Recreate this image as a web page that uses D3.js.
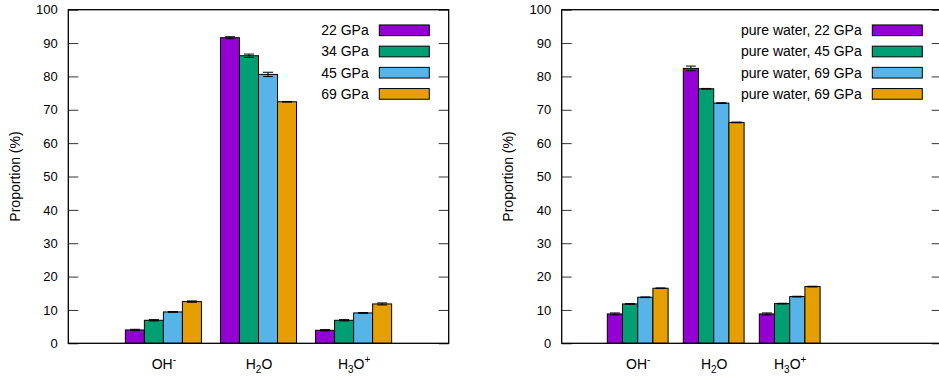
<!DOCTYPE html>
<html>
<head>
<meta charset="utf-8">
<script src="https://cdn.jsdelivr.net/npm/d3@7"></script>
<style>
  html, body { margin: 0; padding: 0; background: #fff; }
  svg { display: block; font-family: "Liberation Sans", Arial, Helvetica, sans-serif; }
</style>
</head>
<body>
<svg id="chart" width="939" height="381"></svg>
<script>
// Species on the x axis (rich-text parts: [text, role])
const species = [
  [["OH", "n"], ["-", "sup"]],
  [["H", "n"], ["2", "sub"], ["O", "n"]],
  [["H", "n"], ["3", "sub"], ["O", "n"], ["+", "sup"]]
];

const yTicks = [0, 10, 20, 30, 40, 50, 60, 70, 80, 90, 100];
const colors = ["#9400D3", "#009E73", "#56B4E9", "#E69F00"];

// Left panel: proportions per pressure (OH-, H2O, H3O+)
const leftLabels = ["22 GPa", "34 GPa", "45 GPa", "69 GPa"];
const left22 = [4.0, 91.6, 3.9];
const left34 = [6.9, 86.2, 6.9];
const left45 = [9.4, 80.6, 9.1];
const left69 = [12.5, 72.4, 11.8];
const left22Err = [0.2, 0.3, 0.2];
const left34Err = [0.2, 0.5, 0.2];
const left45Err = [0.1, 0.65, 0.1];
const left69Err = [0.2, 0.1, 0.3];

// Right panel: pure water
const rightLabels = ["pure water, 22 GPa", "pure water, 45 GPa", "pure water, 69 GPa", "pure water, 69 GPa"];
const right22 = [8.8, 82.4, 8.8];
const right45 = [11.8, 76.3, 11.9];
const right69a = [13.8, 72.0, 14.0];
const right69b = [16.5, 66.2, 17.0];
const right22Err = [0.3, 0.7, 0.3];
const right45Err = [0.1, 0.1, 0.1];
const right69aErr = [0.1, 0.1, 0.1];
const right69bErr = [0.1, 0.1, 0.1];

const svg = d3.select("#chart");

function drawPanel(opts) {
  const { x0, x1, xDomain, labelX, series, errors, names } = opts;
  const top = 9.7, bottom = 343.3;
  const x = d3.scaleLinear().domain(xDomain).range([x0, x1]);
  const y = d3.scaleLinear().domain([0, 100]).range([bottom, top]);
  const g = svg.append("g");
  const barW = 0.2;

  // bars
  series.forEach((vals, j) => {
    g.append("g").selectAll("rect").data(vals).join("rect")
      .attr("x", (d, i) => x(i + (j - 2) * barW))
      .attr("width", x(barW) - x(0))
      .attr("y", d => y(d))
      .attr("height", d => y(0) - y(d))
      .attr("fill", colors[j])
      .attr("stroke", "#000")
      .attr("stroke-width", 1);
  });

  // error bars
  series.forEach((vals, j) => {
    const eg = g.append("g").attr("stroke", "#000").attr("stroke-width", 1).attr("fill", "none");
    vals.forEach((v, i) => {
      const e = errors[j][i];
      const cx = x(i + (j - 1.5) * barW);
      eg.append("line").attr("x1", cx).attr("x2", cx).attr("y1", y(v - e)).attr("y2", y(v + e));
      [v - e, v + e].forEach(t => {
        eg.append("line").attr("x1", cx - 5).attr("x2", cx + 5).attr("y1", y(t)).attr("y2", y(t));
      });
    });
  });

  // y axis, ticks inward, plus mirrored ticks on the right
  const yAxis = g.append("g").attr("transform", `translate(${x0},0)`)
    .call(d3.axisLeft(y).tickValues(yTicks).tickSizeInner(-10).tickSizeOuter(0).tickPadding(10.5));
  yAxis.select(".domain").remove();
  yAxis.selectAll(".tick line").attr("stroke", "#333");
  yAxis.selectAll("text").attr("font-size", 13).attr("fill", "#000").style("font-family", "inherit");

  const yAxisR = g.append("g").attr("transform", `translate(${x1},0)`)
    .call(d3.axisRight(y).tickValues(yTicks).tickSizeInner(-10).tickSizeOuter(0).tickFormat(""));
  yAxisR.select(".domain").remove();
  yAxisR.selectAll(".tick line").attr("stroke", "#333");

  // x axis category labels
  const xAxis = g.append("g").attr("transform", `translate(0,${bottom})`)
    .call(d3.axisBottom(x).tickValues([0, 1, 2]).tickSize(0).tickFormat(""));
  xAxis.select(".domain").remove();
  xAxis.selectAll(".tick").each(function(d) {
    const t = d3.select(this).append("text")
      .attr("y", 26).attr("fill", "#000").attr("font-size", 14)
      .attr("text-anchor", "middle").style("font-family", "inherit");
    species[d].forEach(([txt, role]) => {
      const s = t.append("tspan").text(txt);
      if (role === "sub") s.attr("font-size", 10).attr("baseline-shift", "-4");
      if (role === "sup") s.attr("font-size", 10).attr("baseline-shift", "6");
    });
  });

  // frame
  g.append("rect")
    .attr("x", x0).attr("y", top)
    .attr("width", x1 - x0).attr("height", bottom - top)
    .attr("fill", "none").attr("stroke", "#000").attr("stroke-width", 1.3);

  // y label
  g.append("text")
    .attr("transform", `translate(${labelX},${(top + bottom) / 2}) rotate(-90)`)
    .attr("text-anchor", "middle").attr("dy", "0.35em")
    .attr("font-size", 14).attr("fill", "#000")
    .text("Proportion (%)");

  // legend
  const swR = x1 - 19.4, swW = 50, swH = 10.7;
  const lg = g.append("g");
  names.forEach((name, j) => {
    const cy = 30.3 + j * 21.2;
    lg.append("rect")
      .attr("x", swR - swW).attr("y", cy - swH / 2)
      .attr("width", swW).attr("height", swH)
      .attr("fill", colors[j]).attr("stroke", "#000").attr("stroke-width", 1);
    lg.append("text")
      .attr("x", swR - swW - 10.6).attr("y", cy).attr("dy", "0.35em")
      .attr("text-anchor", "end").attr("font-size", 14).attr("fill", "#000")
      .text(name);
  });
}

drawPanel({
  x0: 68.3, x1: 448.7, xDomain: [-1, 3], labelX: 15,
  series: [left22, left34, left45, left69],
  errors: [left22Err, left34Err, left45Err, left69Err],
  names: leftLabels
});

drawPanel({
  x0: 561.7, x1: 941.7, xDomain: [-1, 4], labelX: 508.5,
  series: [right22, right45, right69a, right69b],
  errors: [right22Err, right45Err, right69aErr, right69bErr],
  names: rightLabels
});
</script>
</body>
</html>
